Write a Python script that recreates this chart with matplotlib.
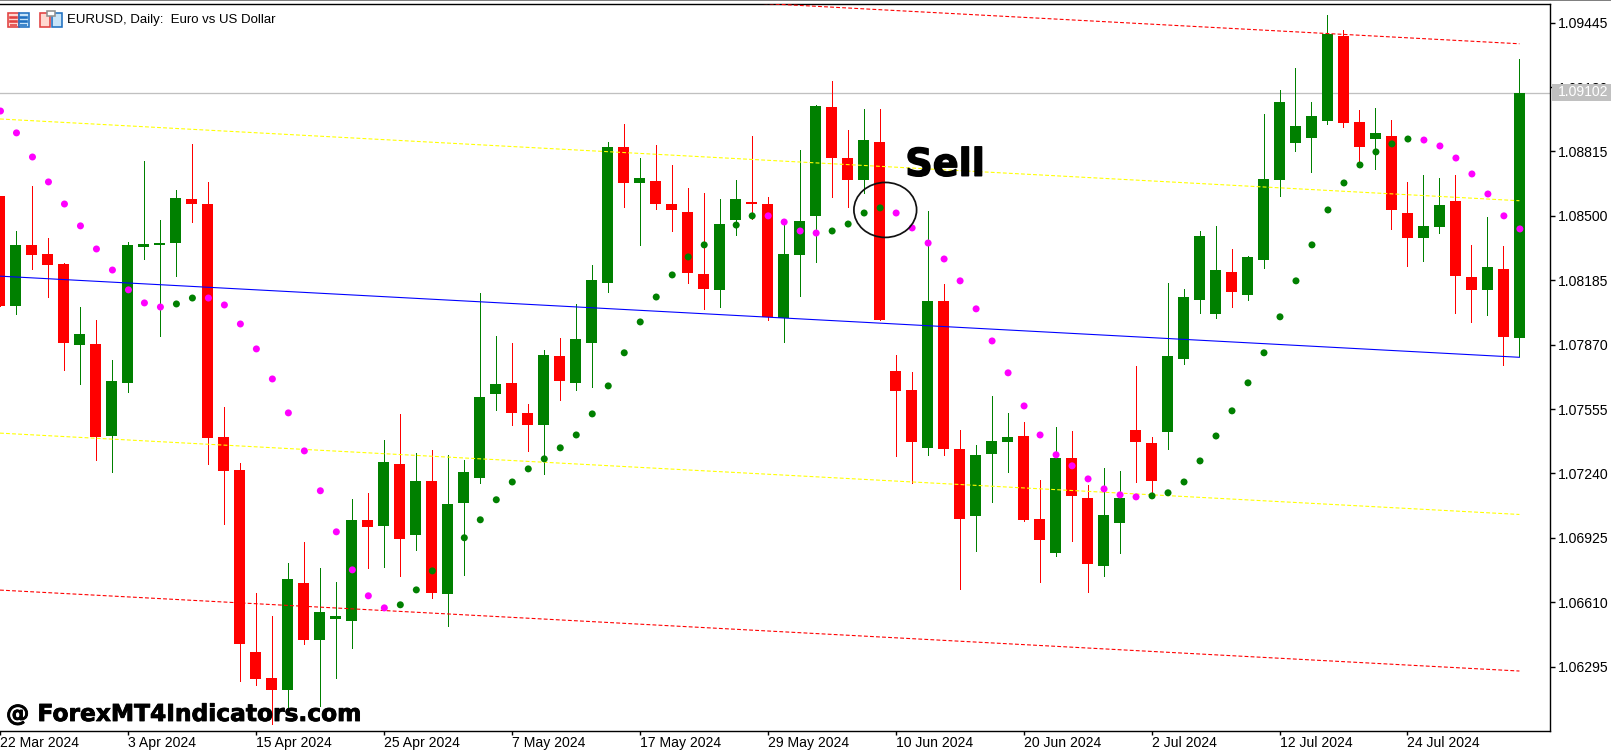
import numpy as np
import matplotlib
matplotlib.use('Agg')
import matplotlib.pyplot as plt
from matplotlib.patches import Ellipse, Rectangle
import matplotlib.patheffects as pe

# all prices in points (1e-5)
colors = ("rgrrrgrggg" "ggrrrrrrgr" "gggrgrgrgg" "ggrrgrgggr" "grrrrggrrg"
          "ggrrgrrrgr" "rgggrrgrrg" "grrggggrgg" "ggggrrgrrg" "grrgrg")

highs = [108597, 108426, 108646, 108392, 108268, 108054, 107991, 107795, 108372, 108769,
         108480, 108627, 108852, 108666, 107565, 107292, 106656, 106543, 106802, 106905,
         106778, 106709, 107115, 107145, 107404, 107531, 107340, 107355, 107331, 107306,
         108121, 107913, 107878, 107580, 107844, 107903, 108069, 108260, 108861, 108950,
         108783, 108847, 108749, 108636, 108612, 108583, 108676, 108891, 108592, 108470,
         108822, 109042, 109160, 108920, 109023, 109023, 107820, 107737, 108524, 108167,
         107453, 107380, 107619, 107536, 107492, 107208, 107468, 107448, 107184, 107267,
         107252, 107766, 107419, 108172, 108142, 108426, 108451, 108338, 108304, 108998,
         109116, 109223, 109057, 109483, 109409, 109018, 109028, 108969, 108666, 108700,
         108685, 108700, 108358, 108495, 108353, 109267]
tops = [108597, 108358, 108358, 108314, 108265, 107922, 107873, 107692, 108358, 108363,
        108367, 108588, 108583, 108558, 107419, 107257, 106367, 106240, 106724, 106705,
        106563, 106543, 107013, 107013, 107296, 107287, 107203, 107203, 107091, 107247,
        107614, 107678, 107683, 107536, 107820, 107815, 107898, 108186, 108837, 108837,
        108685, 108671, 108558, 108519, 108216, 108460, 108583, 108568, 108558, 108314,
        108475, 109038, 109033, 108783, 108871, 108861, 107741, 107648, 108084, 108084,
        107360, 107331, 107399, 107419, 107423, 107018, 107316, 107316, 107120, 107037,
        107120, 107453, 107389, 107815, 108103, 108402, 108235, 108226, 108299, 108680,
        109057, 108940, 108989, 109390, 109380, 108959, 108906, 108891, 108514, 108451,
        108553, 108573, 108201, 108250, 108240, 109102]
bottoms = [108061, 108061, 108309, 108260, 107880, 107870, 107419, 107423, 107683, 108348,
           108358, 108367, 108558, 107414, 107252, 106406, 106235, 106181, 106181, 106426,
           106426, 106528, 106519, 106978, 106983, 106920, 106939, 106656, 106651, 107096,
           107218, 107629, 107536, 107477, 107477, 107692, 107683, 107878, 108172, 108661,
           108661, 108558, 108529, 108221, 108142, 108138, 108480, 108558, 108006, 108001,
           108309, 108500, 108783, 108676, 108676, 107991, 107644, 107394, 107365, 107360,
           107018, 107032, 107336, 107394, 107013, 106915, 106851, 107130, 106797, 106788,
           106998, 107394, 107203, 107443, 107800, 108089, 108020, 108128, 108113, 108284,
           108676, 108857, 108881, 108964, 108954, 108837, 108876, 108529, 108392, 108392,
           108446, 108206, 108138, 108138, 107908, 107903]
lows = [108061, 108020, 108240, 108105, 107746, 107678, 107306, 107247, 107639, 108289,
        107913, 108206, 108470, 107287, 106993, 106225, 106206, 106012, 106083, 106406,
        106103, 106240, 106387, 106778, 106783, 106739, 106866, 106631, 106494, 106744,
        107194, 107551, 107477, 107350, 107238, 107600, 107648, 107663, 108128, 108544,
        108358, 108534, 108426, 108172, 108045, 108054, 108407, 108485, 107991, 107883,
        108108, 108275, 108592, 108544, 108612, 107991, 107326, 107194, 107331, 107331,
        106675, 106861, 107101, 107247, 107008, 106709, 106837, 106910, 106660, 106739,
        106851, 107198, 107130, 107360, 107776, 108025, 108001, 108054, 108089, 108245,
        108597, 108818, 108715, 108950, 108935, 108749, 108729, 108436, 108255, 108279,
        108416, 108025, 107981, 108015, 107771, 107815]

# parabolic sar dots
sar = [109013, 108906, 108788, 108666, 108558, 108451, 108338, 108235, 108138, 108074,
       108054, 108069, 108098, 108098, 108064, 107971, 107849, 107702, 107536, 107350,
       107155, 106954, 106768, 106641, 106582, 106597, 106670, 106763, 106846, 106925,
       107013, 107111, 107198, 107262, 107311, 107365, 107428, 107531, 107668, 107830,
       107981, 108103, 108211, 108299, 108358, 108407, 108455, 108500, 108500, 108470,
       108426, 108416, 108426, 108460, 108514, 108539, 108514, 108441, 108367, 108289,
       108182, 108045, 107888, 107732, 107570, 107428, 107331, 107277, 107213, 107164,
       107135, 107125, 107130, 107145, 107198, 107301, 107423, 107546, 107683, 107830,
       108006, 108182, 108358, 108529, 108661, 108749, 108813, 108852, 108876, 108871,
       108842, 108783, 108705, 108607, 108500, 108436]
sar_runs = [('m', 11), ('g', 2), ('m', 12), ('g', 23), ('m', 4), ('g', 4), ('m', 16), ('g', 17), ('m', 7)]

# regression channel, first bar and last bar
channel_blue = [108205, 107808]
channel_yellow_up = [108974, 108574]
channel_yellow_lo = [107437, 107039]
channel_red_up = [109738, 109342]
channel_red_lo = [106669, 106273]

y_ticks = [1.09445, 1.09130, 1.08815, 1.08500, 1.08185, 1.07870, 1.07555, 1.07240, 1.06925, 1.06610, 1.06295]
x_ticks = [0, 8, 16, 24, 32, 40, 48, 56, 64, 72, 80, 88]
x_labels = ['22 Mar 2024', '3 Apr 2024', '15 Apr 2024', '25 Apr 2024', '7 May 2024', '17 May 2024',
            '29 May 2024', '10 Jun 2024', '20 Jun 2024', '2 Jul 2024', '12 Jul 2024', '24 Jul 2024']
bid = 1.09102

W, H = 1611, 752
plt.rcParams['font.family'] = ['Liberation Sans', 'DejaVu Sans']
px = 72 / 100  # one pixel in points

fig = plt.figure(figsize=(W / 100, H / 100), dpi=100)
ax = fig.add_axes([0, (H - 730.5) / H, 1550 / W, 727 / H])

idx = np.arange(len(highs))
hi, lo = np.array(highs) / 1e5, np.array(lows) / 1e5
top, bot = np.array(tops) / 1e5, np.array(bottoms) / 1e5
col = ['#008000' if c == 'g' else '#ff0000' for c in colors]

ax.axhline(bid + 0.00001, color='#c0c0c0', lw=1.3 * px, zorder=1)
ax.vlines(idx, lo, hi, colors=col, lw=1.0 * px, zorder=2, antialiased=False)
ax.bar(idx, top - bot, bottom=bot, width=11 / 16, color=col, lw=0, zorder=3, antialiased=False)

# channel lines sit over the candles
x_ends = [0, 95]
dash = (0, (3.5, 2))
ax.plot(x_ends, np.array(channel_blue) / 1e5, color='#0000ff', lw=1.1 * px, zorder=4)
ax.plot(x_ends, np.array(channel_yellow_up) / 1e5, color='#ffff00', lw=1.1 * px, ls=dash, zorder=4)
ax.plot(x_ends, np.array(channel_yellow_lo) / 1e5, color='#ffff00', lw=1.1 * px, ls=dash, zorder=4)
ax.plot(x_ends, np.array(channel_red_up) / 1e5, color='#ff0000', lw=1.1 * px, ls=dash, zorder=4)
ax.plot(x_ends, np.array(channel_red_lo) / 1e5, color='#ff0000', lw=1.1 * px, ls=dash, zorder=4)

dot_col = []
for c, n in sar_runs:
    dot_col += ['#ff00ff' if c == 'm' else '#008000'] * n
ax.scatter(idx + 0.03, np.array(sar) / 1e5, s=(7 * px) ** 2, c=dot_col, lw=0, zorder=5)

# hand drawn annotation
ax.add_patch(Ellipse((55.35, 1.08529), 3.92, 0.00269, fill=False, ec='#111111', lw=1.25, zorder=6))
ax.text(56.6, 1.08745, 'Sell', fontsize=27.5, fontweight='bold', family='DejaVu Sans', color='black',
        va='center', ha='left', zorder=7, path_effects=[pe.withStroke(linewidth=1.0, foreground='black')])

ax.set_xlim((0 + 0.6) / 16, (1550 + 0.6) / 16)
ax.set_ylim(1.05982, 1.09539)
for s in ['top', 'right', 'bottom']:
    ax.spines[s].set_linewidth(1.4 * px)
ax.spines['left'].set_visible(False)

ax.yaxis.tick_right()
ax.set_yticks(y_ticks)
ax.set_yticklabels(['%.5f' % v for v in y_ticks], fontsize=10.1)
ax.set_xticks(x_ticks)
ax.set_xticklabels(x_labels, fontsize=10.1, ha='left')
ax.tick_params(axis='y', length=3.5, width=1.4 * px, pad=2.5)
ax.tick_params(axis='x', length=3, width=1.4 * px, pad=1)

# bid price flag over the right scale
fig.add_artist(Rectangle((1552 / W, 1 - 101 / H), 59 / W, 17 / H, transform=fig.transFigure, fc='#c0c0c0', lw=0, zorder=3))
fig.text(1557.5 / W, 1 - 92.5 / H, '%.5f' % bid, color='white', fontsize=10.1, va='center', zorder=4)

# terminal window edge above the chart
fig.add_artist(Rectangle((0, 1 - 1 / H), 1, 1 / H, transform=fig.transFigure, fc='#808080', lw=0, zorder=3))

# small header icons
def icon(x, y, w, h, edge, face):
    fig.add_artist(Rectangle((x / W, 1 - (y + h) / H), w / W, h / H, transform=fig.transFigure,
                             fc=face, ec=edge, lw=1.6 * px, zorder=3))

icon(8, 12.5, 10.5, 14.5, '#e04040', '#ffd8d0')
icon(18.5, 12.5, 10.5, 14.5, '#2070c0', '#c8e4f8')
for yy in [17, 21, 24.5]:
    icon(10, yy, 7, 0.5, '#e04040', '#e04040')
    icon(20, yy, 7, 0.5, '#2070c0', '#2070c0')
icon(40, 13, 9.5, 14, '#e04040', '#ffd8d0')
icon(52, 13, 10, 14, '#2070c0', '#c8e4f8')
icon(46.5, 11.5, 8, 4, '#909090', '#ffffff')

fig.text(67 / W, 1 - 20 / H, 'EURUSD, Daily:  Euro vs US Dollar', fontsize=9.5, va='center', color='black', zorder=4)
fig.text(6 / W, 1 - 714.5 / H, '@ ForexMT4Indicators.com', fontsize=16.8, fontweight='bold', family='DejaVu Sans',
         va='center', color='black', zorder=4, path_effects=[pe.withStroke(linewidth=0.6, foreground='black')])

fig.savefig('out.png', dpi=100)
